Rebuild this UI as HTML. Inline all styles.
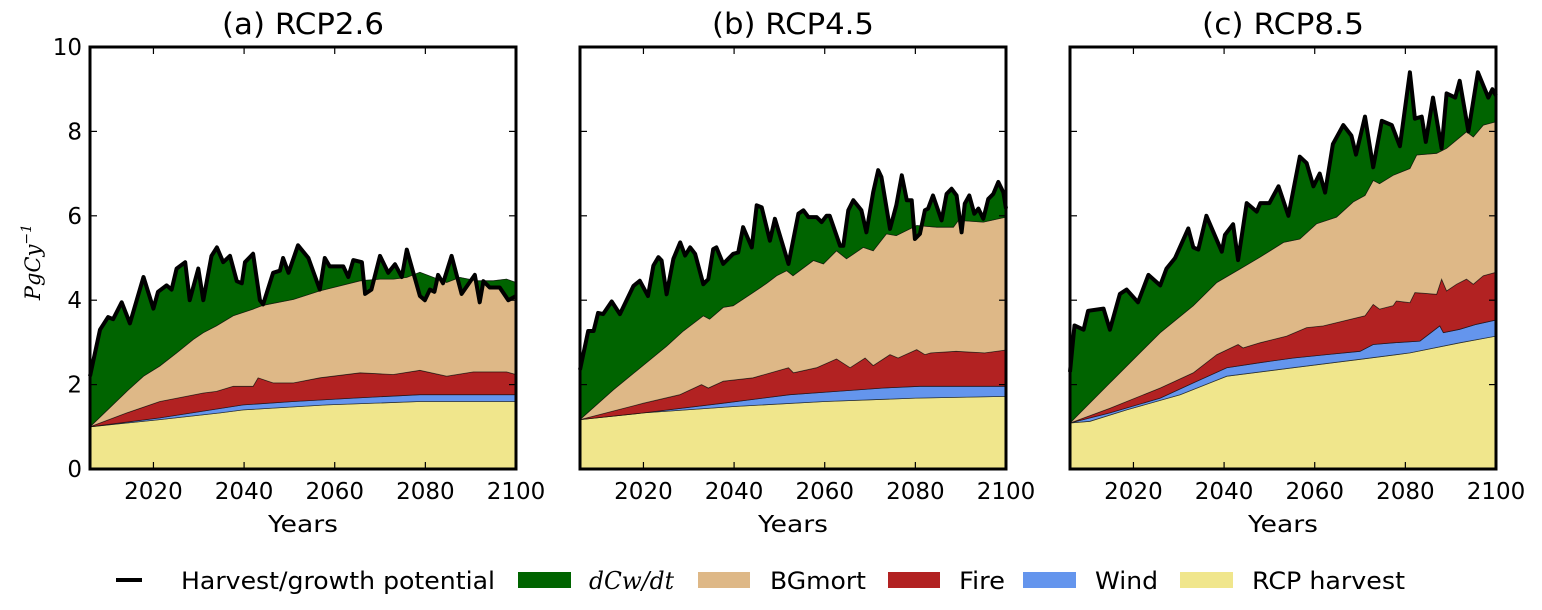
<!DOCTYPE html>
<html><head><meta charset="utf-8"><style>
body{margin:0;background:#fff;}
svg{display:block;font-family:"DejaVu Sans","Liberation Sans",sans-serif;}
</style></head><body>
<svg id="chart" width="1542" height="610" viewBox="0 0 1542 610" xmlns="http://www.w3.org/2000/svg">
<g id="panels"></g>
<text transform="translate(40,262) rotate(-90)" text-anchor="middle" font-family="'DejaVu Serif','Liberation Serif',serif" font-style="italic" font-size="21">PgCy<tspan font-size="14" dy="-9">−1</tspan></text>
<g font-size="24">
 <line x1="116" y1="580" x2="142" y2="580" stroke="#000" stroke-width="4"/>
 <text x="181" y="589" textLength="314" lengthAdjust="spacingAndGlyphs">Harvest/growth potential</text>
 <rect x="518" y="572" width="53" height="16" fill="#006400"/>
 <text x="589" y="589" font-family="'DejaVu Serif','Liberation Serif',serif" font-style="italic" textLength="85" lengthAdjust="spacingAndGlyphs">dCw/dt</text>
 <rect x="698" y="572" width="52" height="16" fill="#DEB887"/>
 <text x="770" y="589" textLength="96" lengthAdjust="spacingAndGlyphs">BGmort</text>
 <rect x="888" y="572" width="52" height="16" fill="#B22222"/>
 <text x="959" y="589" textLength="46" lengthAdjust="spacingAndGlyphs">Fire</text>
 <rect x="1023" y="572" width="53" height="16" fill="#6495ED"/>
 <text x="1095" y="589" textLength="63" lengthAdjust="spacingAndGlyphs">Wind</text>
 <rect x="1180" y="572" width="53" height="16" fill="#F0E68C"/>
 <text x="1252" y="589" textLength="153" lengthAdjust="spacingAndGlyphs">RCP harvest</text>
</g>
</svg>
<script>
const titles = ["(a) RCP2.6","(b) RCP4.5","(c) RCP8.5"];
const xTicks = [2020,2040,2060,2080,2100];
const yTicks = [0,2,4,6,8,10];

// Panel a
const aTotYears=[2006,2008.2,2010,2011.1,2013,2014.8,2017.8,2020,2021,2022.9,2024,2025.1,2027,2028,2029.9,2031,2032.8,2034,2035.4,2036.9,2038.4,2039.5,2040.2,2042,2043.5,2044.2,2046.4,2047.9,2048.6,2049.8,2051.9,2054.2,2056.7,2057.8,2058.9,2061.9,2063,2064.1,2066,2066.7,2068.1,2070,2071.8,2073.3,2074.8,2075.9,2078.8,2079.9,2081,2082,2082.8,2083.9,2085.8,2088,2090.9,2092,2092.8,2094.2,2096.4,2098.3,2100];
const aTot=[2.2,3.3,3.6,3.55,3.95,3.45,4.55,3.8,4.2,4.35,4.25,4.75,4.9,4.0,4.75,4.0,5.05,5.25,4.9,5.05,4.45,4.4,4.9,5.1,4.0,3.9,4.65,4.7,5.0,4.65,5.3,5.0,4.25,5.0,4.8,4.8,4.55,4.95,4.9,4.15,4.25,5.05,4.65,4.85,4.55,5.2,4.1,4.0,4.25,4.2,4.6,4.4,5.05,4.15,4.6,3.95,4.45,4.3,4.3,4.0,4.1];
const aBgYears=[2006,2014.1,2017.8,2021.4,2025.1,2028.8,2031,2033.9,2037.6,2042,2044.2,2050.9,2056.7,2059.7,2065.6,2070,2072.9,2075.9,2078.8,2084.7,2087.6,2091.3,2095,2097.9,2100];
const aBg=[1.0,1.84,2.2,2.44,2.75,3.07,3.23,3.39,3.63,3.79,3.88,4.02,4.22,4.3,4.46,4.5,4.5,4.54,4.66,4.42,4.54,4.46,4.46,4.5,4.42];
const aFireYears=[2006,2014.1,2021.4,2031,2033.9,2037.6,2042,2043.1,2046.4,2050.9,2056.7,2065.6,2072.9,2078.8,2084.7,2090.6,2097.9,2100];
const aFire=[1.0,1.33,1.6,1.8,1.84,1.96,1.96,2.16,2.04,2.04,2.16,2.28,2.24,2.34,2.2,2.3,2.3,2.24];
const aWindYears=[2006,2021.4,2039.8,2050.9,2064.1,2078.8,2100];
const aWind=[1.0,1.21,1.52,1.6,1.68,1.76,1.76];
const aHarvYears=[2006,2021.4,2034.7,2039.8,2058.2,2078.8,2100];
const aHarv=[1.0,1.17,1.33,1.4,1.52,1.6,1.6];

// Panel b
const bTotYears=[2006,2007.8,2009,2010,2011.1,2013,2014.8,2017.8,2019.2,2021,2022.2,2023.3,2024,2025.1,2026.6,2028.1,2029.2,2030.3,2031.4,2033.2,2034.3,2035.4,2036.1,2037.6,2039.8,2040.9,2042,2043.9,2045,2046.1,2047.9,2049,2052,2054.2,2055.3,2056.4,2058.2,2059.3,2060.4,2061.1,2063.4,2064.1,2065.2,2066.3,2068.1,2069.2,2070.7,2071.8,2072.5,2074.4,2075.8,2077,2078.1,2079.2,2079.9,2081,2082.1,2082.8,2083.9,2085.8,2086.9,2088,2089.1,2090.2,2090.9,2091.9,2093,2093.9,2095,2096.1,2097.2,2098.3,2099.4,2100];
const bTot=[2.35,3.27,3.27,3.7,3.67,3.97,3.67,4.34,4.46,4.1,4.82,5.02,4.94,4.14,4.98,5.37,5.06,5.25,5.1,4.38,4.5,5.21,5.25,4.86,5.1,5.13,5.73,5.25,6.25,6.2,5.41,5.93,4.86,6.05,6.13,5.97,5.97,5.85,6.0,6.0,5.29,5.29,6.13,6.37,6.13,5.61,6.56,7.08,6.92,5.69,6.25,6.96,6.37,6.37,5.45,5.57,6.13,6.17,6.48,5.89,6.52,6.64,6.48,5.61,6.29,6.48,6.05,6.17,5.93,6.4,6.52,6.8,6.56,6.17];
const bBgYears=[2006,2013.4,2025.1,2028.8,2033.2,2034.6,2037.6,2039.8,2044.2,2047.2,2049.4,2051.6,2053,2057.5,2059.7,2062.6,2064.8,2068.5,2070.7,2073.6,2075.8,2080.3,2084.7,2088.4,2089.5,2095,2100];
const bBg=[1.17,1.88,2.91,3.27,3.63,3.55,3.83,3.87,4.18,4.4,4.58,4.7,4.58,4.94,4.86,5.17,4.98,5.25,5.17,5.57,5.53,5.77,5.73,5.73,5.89,5.85,5.97];
const bFireYears=[2006,2020,2028,2032.8,2034.3,2037.6,2044.2,2052,2053.1,2058.2,2062.6,2065.6,2068.9,2070.7,2074.4,2076.2,2080.3,2082.1,2083.4,2089,2095.3,2100];
const bFire=[1.17,1.56,1.76,2.0,1.92,2.08,2.16,2.4,2.28,2.4,2.61,2.4,2.63,2.45,2.71,2.63,2.83,2.71,2.75,2.79,2.75,2.82];
const bWindYears=[2006,2020,2037.6,2052.3,2062.6,2073,2081,2092,2100];
const bWind=[1.17,1.33,1.56,1.76,1.84,1.92,1.96,1.96,1.96];
const bHarvYears=[2006,2020,2040,2060,2080,2100];
const bHarv=[1.17,1.33,1.48,1.6,1.68,1.72];

// Panel c
const cTotYears=[2006,2007,2009,2010,2013.4,2014.8,2017,2018.5,2021,2023.3,2025.9,2027.3,2029.2,2032.1,2033.2,2034.3,2036.1,2039.5,2040.2,2042,2043.1,2045,2047.2,2048,2050,2052,2054.2,2056.7,2058.2,2059.7,2061.1,2062.3,2064,2066.3,2068.1,2069.1,2071.1,2072.9,2074.8,2077,2078.8,2081,2082.1,2083.6,2084.5,2086.1,2088,2089.1,2091,2092,2093.9,2096,2098.3,2099.2,2100];
const cTot=[2.3,3.4,3.3,3.75,3.8,3.3,4.15,4.25,3.95,4.6,4.35,4.75,5.0,5.7,5.25,5.2,6.0,5.15,5.55,5.8,4.95,6.3,6.1,6.3,6.3,6.7,6.0,7.4,7.25,6.7,7.0,6.55,7.7,8.15,7.9,7.45,8.35,7.15,8.25,8.15,7.65,9.4,8.3,8.35,7.75,8.8,7.6,8.9,8.8,9.2,8.0,9.4,8.8,9.0,8.85];
const cBgYears=[2006,2014.8,2025.9,2033.2,2038.4,2043.5,2047.9,2053.1,2056.7,2060.4,2064.8,2068.5,2071.1,2072.9,2074.3,2077.3,2081,2082.5,2086.9,2089.1,2093.5,2095,2097.2,2100];
const cBg=[1.09,2.04,3.23,3.87,4.42,4.74,5.02,5.37,5.45,5.81,5.97,6.33,6.48,6.84,6.76,6.96,7.12,7.44,7.48,7.6,7.99,7.87,8.15,8.23];
const cFireYears=[2006,2014.8,2025.9,2033.2,2038.4,2043.1,2044.2,2047.9,2053.8,2058.2,2061.9,2071.1,2072.9,2074.3,2077.3,2078,2081,2082.1,2086.9,2088,2089.1,2091.3,2093.5,2095,2097.2,2100];
const cFire=[1.09,1.44,1.92,2.28,2.71,2.95,2.87,2.99,3.15,3.35,3.39,3.63,3.9,3.79,3.87,3.98,3.94,4.18,4.14,4.5,4.22,4.38,4.5,4.38,4.58,4.66];
const cWindYears=[2006,2014.8,2025.9,2033.2,2040.6,2047.9,2055.3,2062.6,2070,2072.9,2077.3,2083.2,2087.6,2088.4,2092,2095.7,2100];
const cWind=[1.09,1.33,1.68,2.04,2.4,2.52,2.63,2.71,2.79,2.95,2.99,3.03,3.39,3.23,3.31,3.43,3.53];
const cHarvYears=[2006,2010.4,2018.5,2030.3,2040.6,2055.3,2070,2081,2092,2100];
const cHarv=[1.09,1.13,1.4,1.76,2.2,2.4,2.6,2.75,2.99,3.15];

const panels=[
 {x0:90,tot:[aTotYears,aTot],bg:[aBgYears,aBg],fire:[aFireYears,aFire],wind:[aWindYears,aWind],harv:[aHarvYears,aHarv],ylabels:true},
 {x0:580,tot:[bTotYears,bTot],bg:[bBgYears,bBg],fire:[bFireYears,bFire],wind:[bWindYears,bWind],harv:[bHarvYears,bHarv],ylabels:false},
 {x0:1070,tot:[cTotYears,cTot],bg:[cBgYears,cBg],fire:[cFireYears,cFire],wind:[cWindYears,cWind],harv:[cHarvYears,cHarv],ylabels:false}
];
const W=426, Y0=469, Y10=47;
const NS="http://www.w3.org/2000/svg";
const root=document.getElementById('panels');
function mk(tag,attrs,parent){const e=document.createElementNS(NS,tag);for(const k in attrs)e.setAttribute(k,attrs[k]);parent.appendChild(e);return e;}
const yS=v=>Y0-(v/10)*(Y0-Y10);
panels.forEach((p,i)=>{
 const xS=yr=>p.x0+(yr-2006)/(2100-2006)*W;
 const g=mk('g',{},root);
 
 
 const pts=(ys,vs)=>ys.map((y,j)=>xS(y).toFixed(1)+','+yS(vs[j]).toFixed(1));
 const band=(upper,lower,fill,name)=>{
  const d='M'+pts(upper[0],upper[1]).join('L')+'L'+pts(lower[0],lower[1]).reverse().join('L')+'Z';
  const e=mk('path',{d:d,fill:fill,stroke:'#000','stroke-width':0.8,'stroke-opacity':0.6},g);
  
  
 };
 const base=[[2006,2100],[0,0]];
 band(p.harv,base,'#F0E68C','rcp-harvest-area');
 band(p.wind,p.harv,'#6495ED','wind-area');
 band(p.fire,p.wind,'#B22222','fire-area');
 band(p.bg,p.fire,'#DEB887','bgmort-area');
 band(p.tot,p.bg,'#006400','dcw-dt-area');
 const ln=mk('polyline',{points:pts(p.tot[0],p.tot[1]).join(' '),fill:'none',stroke:'#000','stroke-width':4,'stroke-linejoin':'round'},g);
 
 
 xTicks.forEach(t=>{
  const x=xS(t);
  mk('line',{x1:x,x2:x,y1:Y0,y2:Y0-7,stroke:'#000','stroke-width':1.2},g);
  mk('line',{x1:x,x2:x,y1:Y10,y2:Y10+7,stroke:'#000','stroke-width':1.2},g);
  const tl=mk('text',{x:x,y:Y0+30,'text-anchor':'middle','font-size':23},g);
  tl.textContent=t;
  
  
 });
 yTicks.forEach(t=>{
  const y=yS(t);
  mk('line',{x1:p.x0,x2:p.x0+7,y1:y,y2:y,stroke:'#000','stroke-width':1.2},g);
  mk('line',{x1:p.x0+W,x2:p.x0+W-7,y1:y,y2:y,stroke:'#000','stroke-width':1.2},g);
  if(p.ylabels){
   const yl=mk('text',{x:p.x0-8,y:y+8,'text-anchor':'end','font-size':23},g);
   yl.textContent=t;
   
   
  }
 });
 const fr=mk('rect',{x:p.x0,y:Y10,width:W,height:Y0-Y10,fill:'none',stroke:'#000','stroke-width':3},g);
 
 
 const tt=mk('text',{x:p.x0+W/2,y:34,'text-anchor':'middle','font-size':29,textLength:162,lengthAdjust:'spacingAndGlyphs'},g);
 tt.textContent=titles[i];
 
 
 const xl=mk('text',{x:p.x0+W/2,y:532,'text-anchor':'middle','font-size':23,textLength:70,lengthAdjust:'spacingAndGlyphs'},g);
 xl.textContent='Years';
 
 
});
</script>
</body></html>
